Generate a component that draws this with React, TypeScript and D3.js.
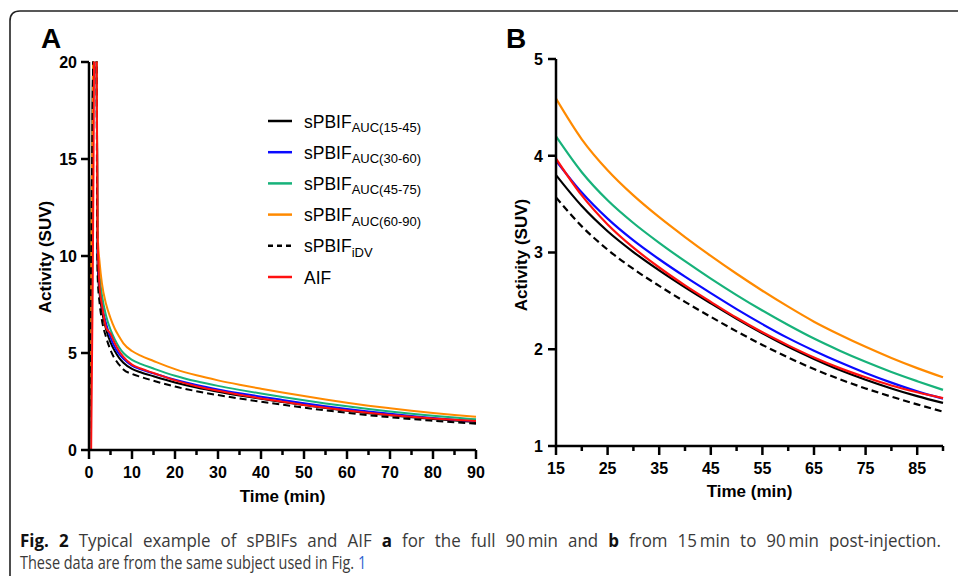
import React, { useEffect, useRef, useState } from "react";
import * as d3 from "d3";

// ---------- data ----------
const times = [0, 0.5, 1, 1.5, 2, 2.5, 3, 4, 5, 6, 7, 8, 10, 12, 15, 20, 25, 30, 35, 40, 45, 50, 55, 60, 65, 70, 75, 80, 85, 90];

const sPBIF_15_45 = [0, 10, 21, 32, 9.6, 8.0, 7.2, 6.2, 5.55, 5.1, 4.75, 4.5, 4.18, 4.01, 3.8, 3.48, 3.22, 3.005, 2.815, 2.64, 2.475, 2.315, 2.165, 2.025, 1.9, 1.785, 1.685, 1.595, 1.515, 1.445];
const sPBIF_30_60 = [0, 10, 21, 32, 10.0, 8.4, 7.5, 6.5, 5.8, 5.3, 4.95, 4.7, 4.35, 4.16, 3.95, 3.62, 3.35, 3.125, 2.93, 2.75, 2.58, 2.415, 2.26, 2.115, 1.985, 1.865, 1.755, 1.655, 1.565, 1.49];
const sPBIF_45_75 = [0, 10, 21, 32, 10.5, 8.9, 8.0, 6.9, 6.2, 5.7, 5.3, 5.0, 4.65, 4.44, 4.2, 3.83, 3.54, 3.305, 3.1, 2.91, 2.73, 2.56, 2.4, 2.25, 2.11, 1.985, 1.87, 1.765, 1.67, 1.58];
const sPBIF_60_90 = [0, 10, 21, 32, 11.2, 9.6, 8.6, 7.5, 6.8, 6.25, 5.85, 5.5, 5.1, 4.86, 4.59, 4.17, 3.85, 3.59, 3.365, 3.16, 2.965, 2.78, 2.605, 2.44, 2.285, 2.15, 2.025, 1.91, 1.805, 1.71];
const sPBIF_iDV = [0, 10, 21, 32, 9.0, 7.5, 6.7, 5.8, 5.15, 4.7, 4.4, 4.15, 3.92, 3.77, 3.57, 3.27, 3.03, 2.83, 2.655, 2.49, 2.335, 2.185, 2.045, 1.915, 1.795, 1.69, 1.595, 1.51, 1.43, 1.355];
const AIF = [0, 0, 13, 30, 11, 8.3, 7.5, 6.3, 6.0, 5.5, 5.1, 4.8, 4.4, 4.2, 3.97, 3.59, 3.29, 3.05, 2.845, 2.66, 2.49, 2.325, 2.175, 2.04, 1.915, 1.805, 1.71, 1.625, 1.555, 1.495];

const legendMain = ["sPBIF", "sPBIF", "sPBIF", "sPBIF", "sPBIF", "AIF"];
const legendSub = ["AUC(15-45)", "AUC(30-60)", "AUC(45-75)", "AUC(60-90)", "iDV", ""];

const xTicksA = [0, 10, 20, 30, 40, 50, 60, 70, 80, 90];
const xMinorA = [5, 15, 25, 35, 45, 55, 65, 75, 85];
const yTicksA = [0, 5, 10, 15, 20];
const xTicksB = [15, 25, 35, 45, 55, 65, 75, 85];
const xMinorB = [20, 30, 40, 50, 60, 70, 80, 90];
const yTicksB = [1, 2, 3, 4, 5];

// ---------- styles ----------
const seriesStyle = [
  { values: sPBIF_15_45, color: "#000000", dash: "" },
  { values: sPBIF_30_60, color: "#0a0aff", dash: "" },
  { values: sPBIF_45_75, color: "#17b27a", dash: "" },
  { values: sPBIF_60_90, color: "#ff8a00", dash: "" },
  { values: sPBIF_iDV, color: "#000000", dash: "7,4" },
  { values: AIF, color: "#ff1010", dash: "" },
];

const FONT = "'Liberation Sans', Arial, Helvetica, sans-serif";
const CAPFONT = "'Open Sans', 'Noto Sans', sans-serif";

export default function App() {
  const xA = d3.scaleLinear().domain([0, 90]).range([89, 476]);
  const yA = d3.scaleLinear().domain([0, 20]).range([450, 62]);
  const xB = d3.scaleLinear().domain([15, 90]).range([556, 943]);
  const yB = d3.scaleLinear().domain([1, 5]).range([446, 59]);

  const line1Ref = useRef<SVGTextElement>(null);
  const line2Ref = useRef<SVGTextElement>(null);
  const [cap, setCap] = useState({ sx1: 0.85, sx2: 0.8, ws: 0 });

  useEffect(() => {
    const l1 = line1Ref.current;
    const l2 = line2Ref.current;
    if (!l1 || !l2) return;
    const w2 = l2.getComputedTextLength();
    const w1 = l1.getComputedTextLength();
    const sx2 = 346 / w2;
    const sx1 = sx2 * 1.17;
    const spaces = 18;
    const ws = (915 / sx1 - w1) / spaces;
    setCap({ sx1, sx2, ws: Math.max(0, ws) });
  }, []);

  const pts = (vals: number[]) => times.map((t, i) => [t, vals[i]] as [number, number]);

  const lineA = d3
    .line<[number, number]>()
    .x((d) => xA(d[0]))
    .y((d) => yA(d[1]))
    .curve(d3.curveMonotoneX);
  const lineB = d3
    .line<[number, number]>()
    .x((d) => xB(d[0]))
    .y((d) => yB(d[1]))
    .curve(d3.curveMonotoneX);

  const axisW = 2.5;

  const axes = (
    x: d3.ScaleLinear<number, number>,
    y: d3.ScaleLinear<number, number>,
    xt: number[],
    xm: number[],
    yt: number[],
    xLab: number,
    yLab: number,
    majLen: number,
    minLen: number
  ) => {
    const [x0, x1] = x.domain();
    const [y0, y1] = y.domain();
    return (
      <g>
        <path
          d={`M${x(x0)},${y(y1)}V${y(y0)}H${x(x1)}`}
          fill="none"
          stroke="#000"
          strokeWidth={axisW}
          strokeLinejoin="miter"
        />
        {xt.map((t) => (
          <g key={"xt" + t}>
            <line x1={x(t)} x2={x(t)} y1={y(y0)} y2={y(y0) + majLen} stroke="#000" strokeWidth={axisW} />
            <text x={x(t)} y={xLab} textAnchor="middle" fontFamily={FONT} fontWeight="bold" fontSize={16}>
              {t}
            </text>
          </g>
        ))}
        {xm.map((t) => (
          <line key={"xm" + t} x1={x(t)} x2={x(t)} y1={y(y0)} y2={y(y0) + minLen} stroke="#000" strokeWidth={axisW} />
        ))}
        {yt.map((v) => (
          <g key={"yt" + v}>
            <line x1={x(x0) - 8} x2={x(x0)} y1={y(v)} y2={y(v)} stroke="#000" strokeWidth={axisW} />
            <text x={yLab} y={y(v)} dy="0.36em" textAnchor="end" fontFamily={FONT} fontWeight="bold" fontSize={16}>
              {v}
            </text>
          </g>
        ))}
      </g>
    );
  };

  return (
    <svg
      width={958}
      height={576}
      style={{ position: "absolute", left: 0, top: 0, display: "block", background: "#fff" }}
    >
      <defs>
        <clipPath id="clipA">
          <rect x={89} y={61.5} width={390} height={392} />
        </clipPath>
        <clipPath id="clipB">
          <rect x={556} y={40} width={392} height={410} />
        </clipPath>
      </defs>
      <rect x={0} y={0} width={958} height={576} fill="#fff" />

      {/* frame */}
      <path d="M10,580V21Q10,11,20,11H960" fill="none" stroke="#222" strokeWidth={1.6} />

      {/* panel labels */}
      <text x={41} y={48} fontFamily={FONT} fontWeight="bold" fontSize={28}>A</text>
      <text x={506} y={48} fontFamily={FONT} fontWeight="bold" fontSize={28}>B</text>

      {/* Panel A */}
      <g clipPath="url(#clipA)">
        {seriesStyle.map((s, i) => (
          <path
            key={"a" + i}
            d={lineA(pts(s.values)) || ""}
            fill="none"
            stroke={s.color}
            strokeWidth={2}
            strokeDasharray={s.dash || undefined}
          />
        ))}
      </g>
      {axes(xA, yA, xTicksA, xMinorA, yTicksA, 478, 77, 9, 5)}
      <text
        transform={`translate(45,257) rotate(-90)`}
        textAnchor="middle"
        dy="0.36em"
        fontFamily={FONT}
        fontWeight="bold"
        fontSize={17}
      >
        Activity (SUV)
      </text>
      <text x={282.5} y={502} textAnchor="middle" fontFamily={FONT} fontWeight="bold" fontSize={17}>
        Time (min)
      </text>

      {/* Legend */}
      {seriesStyle.map((s, i) => {
        const yy = 121 + i * 31.2;
        return (
          <g key={"lg" + i}>
            <line
              x1={268}
              x2={292}
              y1={yy}
              y2={yy}
              stroke={s.color}
              strokeWidth={2.5}
              strokeDasharray={s.dash ? "5,4" : undefined}
            />
            <text x={304} y={yy + 6.5} fontFamily={FONT} fontSize={17.5}>
              {legendMain[i]}
              {legendSub[i] ? (
                <tspan fontSize={13} dy={4.5}>
                  {legendSub[i]}
                </tspan>
              ) : null}
            </text>
          </g>
        );
      })}

      {/* Panel B */}
      <g clipPath="url(#clipB)">
        {seriesStyle.map((s, i) => (
          <path
            key={"b" + i}
            d={lineB(pts(s.values).filter((d) => d[0] >= 15)) || ""}
            fill="none"
            stroke={s.color}
            strokeWidth={2.2}
            strokeDasharray={s.dash || undefined}
          />
        ))}
      </g>
      {axes(xB, yB, xTicksB, xMinorB, yTicksB, 474, 543, 9, 5)}
      <text
        transform={`translate(521,255) rotate(-90)`}
        textAnchor="middle"
        dy="0.36em"
        fontFamily={FONT}
        fontWeight="bold"
        fontSize={17}
      >
        Activity (SUV)
      </text>
      <text x={749.5} y={497} textAnchor="middle" fontFamily={FONT} fontWeight="bold" fontSize={17}>
        Time (min)
      </text>

      {/* Caption (justified first line, condensed face) */}
      <g transform={`translate(20,0) scale(${cap.sx1},1)`}>
        <text
          ref={line1Ref}
          x={0}
          y={547}
          fontFamily={CAPFONT}
          fontSize={18}
          fill="#3a3a3a"
          style={{ wordSpacing: `${cap.ws}px` }}
        >
          <tspan fontWeight="bold" fill="#111">Fig. 2</tspan>
          <tspan> Typical example of sPBIFs and AIF </tspan>
          <tspan fontWeight="bold" fill="#111">a</tspan>
          <tspan>{" for the full 90\u2009min and "}</tspan>
          <tspan fontWeight="bold" fill="#111">b</tspan>
          <tspan>{" from 15\u2009min to 90\u2009min post-injection."}</tspan>
        </text>
      </g>
      <g transform={`translate(20,0) scale(${cap.sx2},1)`}>
        <text ref={line2Ref} x={0} y={569} fontFamily={CAPFONT} fontSize={18} fill="#3a3a3a">
          <tspan>These data are from the same subject used in Fig. </tspan>
          <tspan fill="#2f5fd0">1</tspan>
        </text>
      </g>
    </svg>
  );
}
